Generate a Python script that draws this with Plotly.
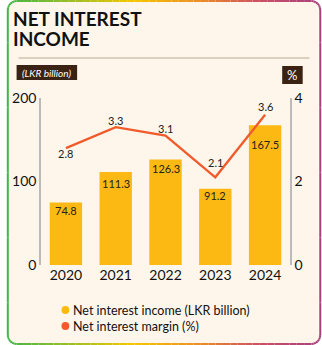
import math
import plotly.graph_objects as go

years = ["2020", "2021", "2022", "2023", "2024"]
nii = [74.8, 111.3, 126.3, 91.2, 167.5]
nim = [2.8, 3.3, 3.1, 2.1, 3.6]
left_ticks = [0, 100, 200]
right_ticks = [0, 2, 4]
legend_labels = ["Net interest income (LKR billion)", "Net interest margin (%)"]

# style
W, H = 322, 345
ML, MR, MT, MB = 35, 32, 98, 80
PW, PH = W - ML - MR, H - MT - MB
BAR = "#FDB913"
LINE = "#F15A2B"
CREAM = "#FEF6EA"
DARK = "#3B2314"
FONT = "Lato"
bar_shift = [-8, -11, -9, -7, -19]
line_shift = [-5, 7, 7, 15, 8]


def px(x):
    return (x - ML) / PW


def py(y):
    return (H - MB - y) / PH


fig = go.Figure()
fig.add_trace(go.Bar(x=years, y=nii, marker=dict(color=BAR, line=dict(width=0)),
                     name=legend_labels[0], yaxis="y"))
fig.add_trace(go.Scatter(x=years, y=nim, mode="lines", line=dict(color=LINE, width=2.3),
                         name=legend_labels[1], yaxis="y2"))

shapes = []
r = 9
x0, y0, x1, y1 = 1, 1, W - 1, H - 1


def card_path(x0, y0, x1, y1, r):
    return (f"M {px(x0+r)},{py(y0)} L {px(x1-r)},{py(y0)} "
            f"Q {px(x1)},{py(y0)} {px(x1)},{py(y0+r)} L {px(x1)},{py(y1-r)} "
            f"Q {px(x1)},{py(y1)} {px(x1-r)},{py(y1)} L {px(x0+r)},{py(y1)} "
            f"Q {px(x0)},{py(y1)} {px(x0)},{py(y1-r)} L {px(x0)},{py(y0+r)} "
            f"Q {px(x0)},{py(y0)} {px(x0+r)},{py(y0)} Z")


shapes.append(dict(type="path", xref="paper", yref="paper", path=card_path(x0, y0, x1, y1, r),
                   fillcolor=CREAM, line=dict(width=0), layer="below"))

stops = [(0.0, (64, 182, 74)), (0.4, (245, 200, 0)), (0.62, (236, 140, 40)),
         (0.8, (205, 80, 100)), (1.0, (168, 66, 128))]


def grad(t):
    for i in range(len(stops) - 1):
        a, ca = stops[i]
        b, cb = stops[i + 1]
        if t <= b:
            f = (t - a) / (b - a) if b > a else 0
            c = [int(ca[k] + (cb[k] - ca[k]) * f) for k in range(3)]
            return f"rgb({c[0]},{c[1]},{c[2]})"
    c = stops[-1][1]
    return f"rgb({c[0]},{c[1]},{c[2]})"


pts = []
n = 40
for i in range(n + 1):
    pts.append((x0 + r + (x1 - x0 - 2 * r) * i / n, y0))
for i in range(1, 7):
    a = -math.pi / 2 + (math.pi / 2) * i / 6
    pts.append((x1 - r + r * math.cos(a), y0 + r + r * math.sin(a)))
for i in range(1, 11):
    pts.append((x1, y0 + r + (y1 - y0 - 2 * r) * i / 10))
for i in range(1, 7):
    a = 0 + (math.pi / 2) * i / 6
    pts.append((x1 - r + r * math.cos(a), y1 - r + r * math.sin(a)))
for i in range(1, n + 1):
    pts.append((x1 - r - (x1 - x0 - 2 * r) * i / n, y1))
for i in range(1, 7):
    a = math.pi / 2 + (math.pi / 2) * i / 6
    pts.append((x0 + r + r * math.cos(a), y1 - r + r * math.sin(a)))
for i in range(1, 11):
    pts.append((x0, y1 - r - (y1 - y0 - 2 * r) * i / 10))
for i in range(1, 7):
    a = math.pi + (math.pi / 2) * i / 6
    pts.append((x0 + r + r * math.cos(a), y0 + r + r * math.sin(a)))
for (ax, ay), (bx, by) in zip(pts[:-1], pts[1:]):
    t = ((ax + bx) / 2) / W
    shapes.append(dict(type="line", xref="paper", yref="paper",
                       x0=px(ax), y0=py(ay), x1=px(bx), y1=py(by),
                       line=dict(color=grad(t), width=2), layer="above"))

shapes.append(dict(type="line", xref="paper", yref="paper", x0=px(12), x1=px(310),
                   y0=py(58), y1=py(58), line=dict(color="#DDD0BF", width=2)))
shapes.append(dict(type="rect", xref="paper", yref="paper", x0=px(10), x1=px(72),
                   y0=py(65), y1=py(80), fillcolor=DARK, line=dict(width=0)))
shapes.append(dict(type="rect", xref="paper", yref="paper", x0=px(282), x1=px(303),
                   y0=py(66), y1=py(84), fillcolor=DARK, line=dict(width=0)))
for i, col in enumerate([BAR, LINE]):
    cy = 310 + 16 * i
    shapes.append(dict(type="circle", xref="paper", yref="paper",
                       x0=px(56), x1=px(64), y0=py(cy - 4), y1=py(cy + 4),
                       fillcolor=col, line=dict(width=0)))

ann = []
ann.append(dict(text="<b>NET INTEREST</b>", x=px(4), y=py(18), xref="paper", yref="paper",
                xanchor="left", yanchor="middle", showarrow=False, height=19,
                font=dict(family=FONT, size=19, color="#111111")))
ann.append(dict(text="<b>INCOME</b>", x=px(4), y=py(38.5), xref="paper", yref="paper",
                xanchor="left", yanchor="middle", showarrow=False, height=19,
                font=dict(family=FONT, size=19, color="#111111")))
ann.append(dict(text="<i>(LKR billion)</i>", x=px(41), y=py(72.5), xref="paper", yref="paper",
                xanchor="center", yanchor="middle", showarrow=False,
                font=dict(family=FONT, size=10, color="white")))
ann.append(dict(text="%", x=px(292.5), y=py(75), xref="paper", yref="paper",
                xanchor="center", yanchor="middle", showarrow=False,
                font=dict(family=FONT, size=13, color="white")))
for i, lab in enumerate(legend_labels):
    ann.append(dict(text=lab, x=px(66), y=py(310 + 16 * i), xref="paper", yref="paper",
                    xanchor="left", yanchor="middle", showarrow=False,
                    font=dict(family=FONT, size=12.5, color="#111111")))
for i, (v, s) in enumerate(zip(nii, bar_shift)):
    ann.append(dict(text=f"{v:.1f}", x=i, y=v, xref="x", yref="y", yshift=s,
                    yanchor="middle", showarrow=False,
                    font=dict(family=FONT, size=11, color="#222222")))
for i, (v, s) in enumerate(zip(nim, line_shift)):
    ann.append(dict(text=f"{v:.1f}", x=i, y=v, xref="x", yref="y2", yshift=s,
                    yanchor="middle", showarrow=False,
                    font=dict(family=FONT, size=11, color="#222222")))

fig.update_layout(
    width=W, height=H, margin=dict(l=ML, r=MR, t=MT, b=MB),
    paper_bgcolor="white", plot_bgcolor="rgba(0,0,0,0)",
    showlegend=False, bargap=0.35,
    font=dict(family=FONT, color="#111111"),
    xaxis=dict(type="category", range=[-0.5, 4.5], showline=False, showgrid=False,
               zeroline=False, ticks="", tickfont=dict(size=14, color="#111111")),
    yaxis=dict(range=[0, 200], tickvals=left_ticks, showgrid=False, zeroline=False,
               showline=True, linecolor="#BBBBBB", linewidth=1.5, ticks="",
               tickfont=dict(size=14, color="#111111")),
    yaxis2=dict(range=[0, 4], tickvals=right_ticks, overlaying="y", side="right",
                showgrid=False, zeroline=False, showline=True, linecolor="#BBBBBB",
                linewidth=1.5, ticks="", tickfont=dict(size=14, color="#111111")),
    shapes=shapes, annotations=ann,
)
fig.write_html("out.html")
